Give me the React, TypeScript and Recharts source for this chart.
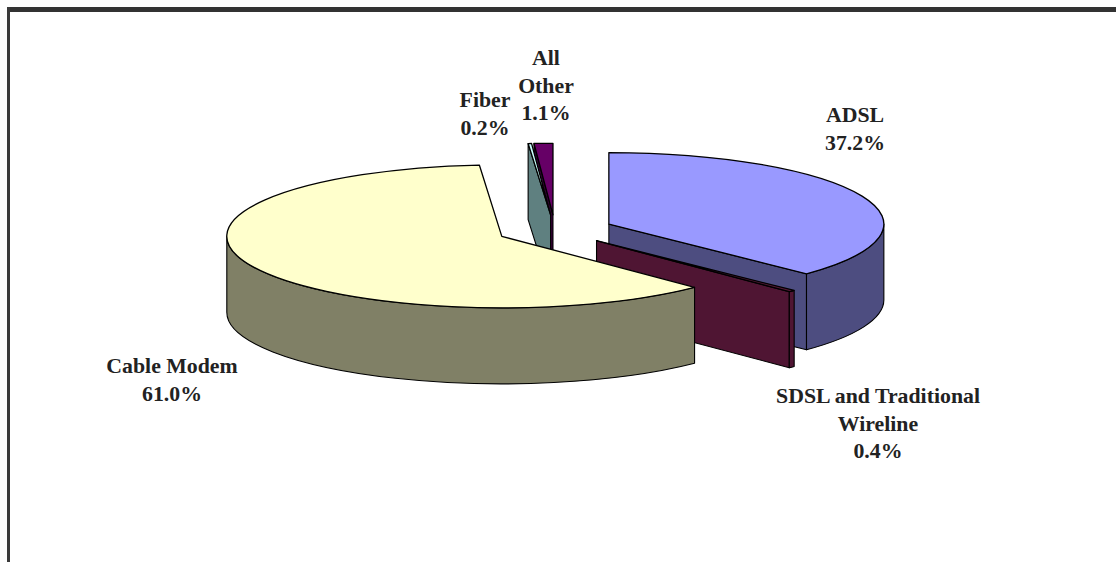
import { PieChart, Pie } from 'recharts';

const categories = ['ADSL', 'SDSL and Traditional Wireline', 'Cable Modem', 'Fiber', 'All Other'];
const shares = [37.2, 0.4, 61.0, 0.2, 1.1];

const topColors = ['#9999ff', '#5a1a3a', '#ffffcc', '#ccffff', '#660066'];
const wallColors = ['#4d4d80', '#4f1533', '#808066', '#5f8080', '#330033'];

// back to front, so nearer slabs cover the ones behind them
const paintOrder = ['All Other', 'Fiber', 'ADSL', 'SDSL and Traditional Wireline', 'Cable Modem'];

const labelLines: Record<string, string[]> = {
  'ADSL': ['ADSL'],
  'SDSL and Traditional Wireline': ['SDSL and Traditional', 'Wireline'],
  'Cable Modem': ['Cable Modem'],
  'Fiber': ['Fiber'],
  'All Other': ['All', 'Other'],
};

const labelSpots: Record<string, { x: number; y: number }> = {
  'ADSL': { x: 855, y: 122 },
  'SDSL and Traditional Wireline': { x: 878, y: 403 },
  'Cable Modem': { x: 172, y: 373 },
  'Fiber': { x: 485, y: 107 },
  'All Other': { x: 546, y: 65 },
};

const slices = categories.map((name, i) => ({
  name,
  value: shares[i],
  top: topColors[i],
  wall: wallColors[i],
}));

const TILT = 0.26;
const DEPTH = 76;
const EXPLODE = 58.5;

const rad = (deg: number) => (deg * Math.PI) / 180;

// recharts angles run counter-clockwise from 3 o'clock, the slab works clockwise from 12
function Slab(props: any) {
  const { cx, cy, outerRadius: rx, startAngle, endAngle, payload } = props;
  const ry = rx * TILT;
  const from = 90 - startAngle;
  const to = 90 - endAngle;
  const mid = (from + to) / 2;
  const ox = cx + EXPLODE * Math.sin(rad(mid));
  const oy = cy - EXPLODE * TILT * Math.cos(rad(mid));

  const at = (deg: number, drop = 0) =>
    `${(ox + rx * Math.sin(rad(deg))).toFixed(2)} ${(oy - ry * Math.cos(rad(deg)) + drop).toFixed(2)}`;
  const hub = (drop = 0) => `${ox.toFixed(2)} ${(oy + drop).toFixed(2)}`;
  const radialWall = (deg: number) => `M${hub()} L${at(deg)} L${at(deg, DEPTH)} L${hub(DEPTH)} Z`;

  const walls: string[] = [];
  if (Math.sin(rad(from)) < 0) walls.push(radialWall(from));
  if (Math.sin(rad(to)) > 0) walls.push(radialWall(to));

  // only the part of the rim facing the viewer, 3 o'clock round to 9 o'clock
  const a = Math.max(from, 90);
  const b = Math.min(to, 270);
  if (b > a) {
    const big = b - a > 180 ? 1 : 0;
    walls.push(
      `M${at(a)} A${rx} ${ry} 0 ${big} 1 ${at(b)} L${at(b, DEPTH)} A${rx} ${ry} 0 ${big} 0 ${at(a, DEPTH)} Z`
    );
  }

  const large = to - from > 180 ? 1 : 0;
  const top = `M${hub()} L${at(from)} A${rx} ${ry} 0 ${large} 1 ${at(to)} Z`;

  return (
    <g>
      {walls.map((d, i) => (
        <path key={i} d={d} fill={payload.wall} stroke="#000" strokeWidth={1.1} strokeLinejoin="round" />
      ))}
      <path d={top} fill={payload.top} stroke="#000" strokeWidth={1.3} strokeLinejoin="round" />
    </g>
  );
}

function SliceLabel(props: any) {
  const { name, value } = props;
  const spot = labelSpots[name];
  const lines = [...labelLines[name], `${value.toFixed(1)}%`];
  return (
    <text
      x={spot.x}
      y={spot.y}
      textAnchor="middle"
      fontFamily="'Liberation Serif', serif"
      fontWeight={700}
      fontSize={21.8}
      fill="#222"
    >
      {lines.map((line, i) => (
        <tspan key={i} x={spot.x} y={spot.y + i * 27.5}>
          {line}
        </tspan>
      ))}
    </text>
  );
}

export default function App() {
  return (
    <div style={{ position: 'fixed', left: 0, top: 0, width: 1116, height: 562, background: '#fff', overflow: 'hidden' }}>
      <div style={{ position: 'absolute', left: 7, top: 7, right: 0, height: 5, background: '#333' }} />
      <div style={{ position: 'absolute', left: 7, top: 7, width: 3, bottom: 0, background: '#3a3a3a' }} />
      <PieChart width={1116} height={562} margin={{ top: 0, right: 0, bottom: 0, left: 0 }}>
        {paintOrder.map((name) => (
          <Pie
            key={name}
            data={slices}
            dataKey="value"
            cx={555}
            cy={230}
            outerRadius={275}
            startAngle={90}
            endAngle={-270}
            stroke="none"
            isAnimationActive={false}
            shape={(props: any) => (props.name === name ? <Slab {...props} /> : <g />)}
          />
        ))}
        <Pie
          data={slices}
          dataKey="value"
          cx={555}
          cy={230}
          outerRadius={275}
          startAngle={90}
          endAngle={-270}
          stroke="none"
          isAnimationActive={false}
          shape={() => <g />}
          label={SliceLabel}
          labelLine={false}
        />
      </PieChart>
    </div>
  );
}
